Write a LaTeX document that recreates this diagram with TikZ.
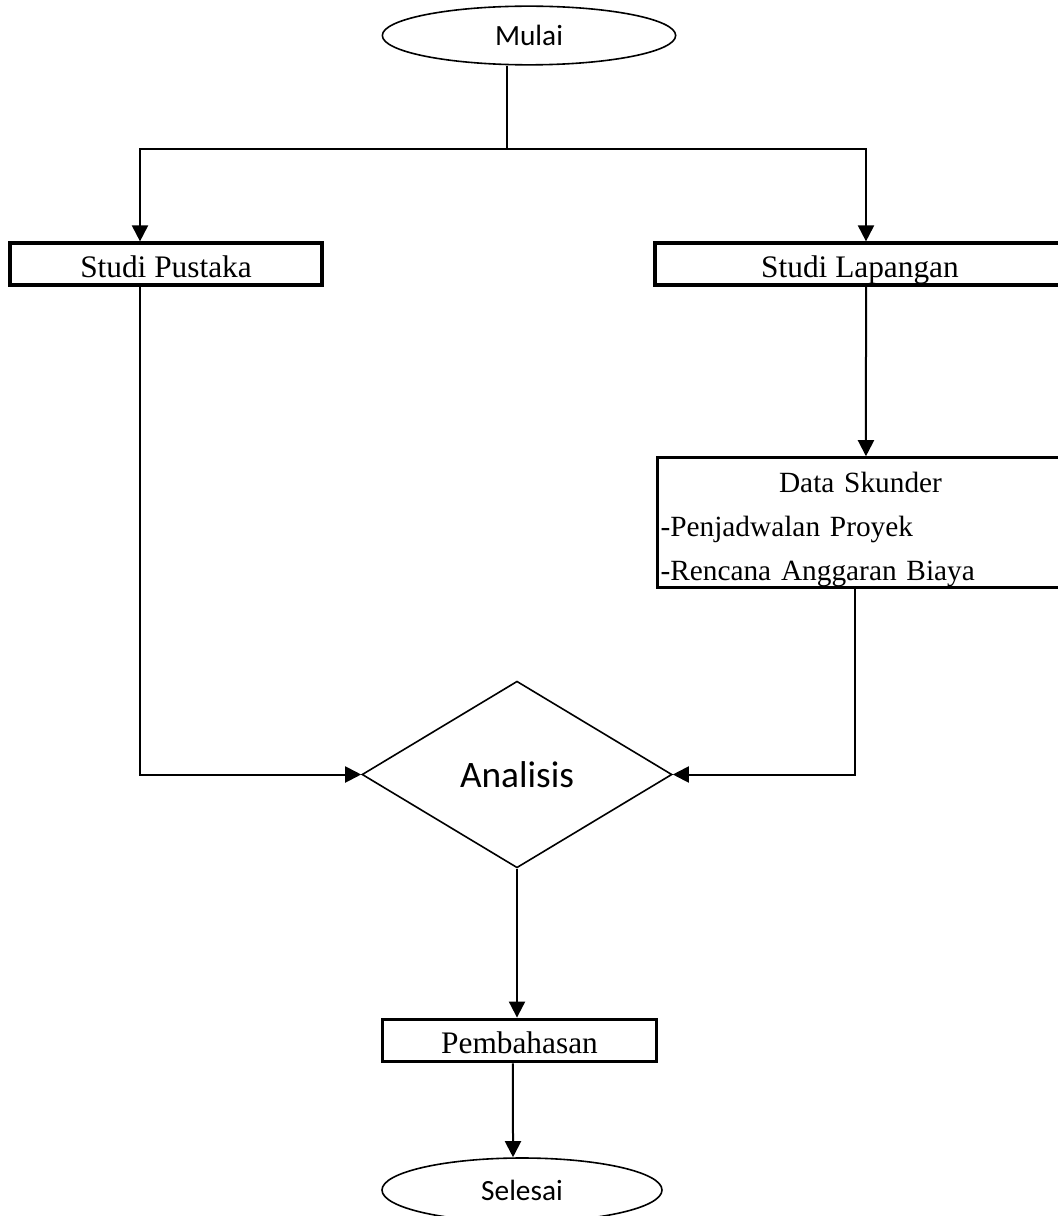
\documentclass[tikz,border=0pt]{standalone}
\usepackage{fontspec}
\setmainfont{Liberation Serif}
\newfontfamily\calibri{Carlito}
\usepackage{tikz}
\usetikzlibrary{
    shapes.geometric,
    arrows.meta
}
\tikzset{
    >={Triangle[length=12pt,width=12pt]},
    kotak/.style={
        draw,
        line width=2.4pt,
        inner xsep=2pt,
        inner ysep=0pt,
        text height=24pt,
        text depth=4.5pt,
        font=\fontsize{23.5}{33}\selectfont
    },
    terminal/.style={
        draw,
        ellipse,
        line width=1.2pt,
        inner sep=0pt,
        font=\calibri\fontsize{22}{26}\selectfont
    }
}

\begin{document}
\begin{tikzpicture}[
    x=0.75pt,
    y=-0.75pt,
    line width=1.5pt
]
    \useasboundingbox (0,0) rectangle (1057,1216);

    % Simpul
    \node[terminal, minimum width=220pt, minimum height=44pt]
        (mulai) at (529,35.5) {Mulai};
    \node[kotak, minimum width=234pt, minimum height=31.5pt]
        (pustaka) at (166,264) {Studi Pustaka};
    \node[kotak, minimum width=307.5pt, minimum height=31.5pt]
        (lapangan) at (860,264) {Studi Lapangan};
    \node[kotak, minimum height=97pt, text width=300pt, align=left,
          text height=, text depth=, font=\fontsize{22}{33}\selectfont]
        (skunder) at (860.5,522.5)
        {\rule{0pt}{25pt}\makebox[\linewidth][c]{Data Skunder}\\
         -Penjadwalan Proyek\\
         -Rencana Anggaran Biaya};
    \node[draw, diamond, line width=1.2pt, inner sep=0pt,
          minimum width=232.5pt, minimum height=140pt,
          font=\calibri\fontsize{28}{32}\selectfont]
        (analisis) at (517,774.5) {Analisis};
    \node[kotak, minimum width=206pt, minimum height=32pt]
        (pembahasan) at (519.5,1040.5) {Pembahasan};
    \node[terminal, minimum width=210pt, minimum height=48pt]
        (selesai) at (522,1190) {Selesai};

    \coordinate (cabang) at (507,149);

    % Garis
    \draw (cabang |- mulai.south) -- (cabang);
    \draw[->] (cabang) -| ([xshift=-19.5pt]pustaka.north);
    \draw[->] (cabang) -| ([xshift=4.5pt]lapangan.north);
    \draw[->] ([xshift=4.5pt]lapangan.south)
        -- ([xshift=4.1pt]skunder.north);
    \draw[->] ([xshift=-19.5pt]pustaka.south) |- (analisis.west);
    \draw[->] ([xshift=-4.1pt]skunder.south) |- (analisis.east);
    \draw[->] (analisis.south) -- (analisis.south |- pembahasan.north);
    \draw[->] ([xshift=-4.9pt]pembahasan.south)
        -- ([xshift=-6.75pt]selesai.north);

\end{tikzpicture}
\end{document}
